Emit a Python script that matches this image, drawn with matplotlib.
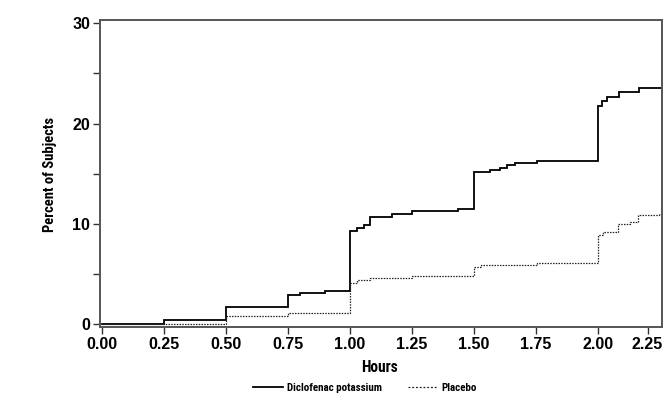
import matplotlib
matplotlib.use("Agg")
import matplotlib.pyplot as plt
from matplotlib.lines import Line2D

# ---- data ----
diclo_x = [0.00, 0.25, 0.50, 0.75, 0.80, 0.90, 1.00, 1.03, 1.055, 1.08, 1.168, 1.25,
           1.435, 1.50, 1.565, 1.605, 1.633, 1.665, 1.753, 2.00, 2.016, 2.035, 2.085,
           2.165, 2.258]
diclo_y = [0.0, 0.4, 1.7, 2.9, 3.1, 3.3, 9.3, 9.6, 9.9, 10.7, 11.0, 11.3,
           11.5, 15.2, 15.4, 15.6, 15.9, 16.1, 16.3, 21.7, 22.2, 22.6, 23.1,
           23.5, 23.5]

placebo_x = [0.00, 0.50, 0.75, 1.00, 1.03, 1.08, 1.168, 1.25, 1.50, 1.528, 1.753,
             2.00, 2.02, 2.082, 2.13, 2.163, 2.245, 2.258]
placebo_y = [0.0, 0.8, 1.1, 4.05, 4.4, 4.55, 4.6, 4.8, 5.7, 5.9, 6.1,
             8.9, 9.15, 10.0, 10.2, 10.85, 11.0, 11.0]

x_tick_pos = [0.0, 0.25, 0.5, 0.75, 1.0, 1.25, 1.5, 1.75, 2.0, 2.2]
x_tick_labels = ["0.00", "0.25", "0.50", "0.75", "1.00", "1.25", "1.50", "1.75", "2.00", "2.25"]
y_ticks = [0, 10, 20, 30]
y_minor = [5, 15, 25]

series_names = ["Diclofenac potassium", "Placebo"]

# ---- fonts ----
narrow = ["Liberation Sans Narrow", "Roboto Condensed", "DejaVu Sans Condensed", "Liberation Sans", "DejaVu Sans"]
tickfont = ["Liberation Sans", "Arial", "DejaVu Sans"]

fig = plt.figure(figsize=(6.71, 3.94), dpi=100)
ax = fig.add_axes([100/671, 1-327/394, (662-100)/671, (327-20)/394])

ax.step(diclo_x, diclo_y, where="post", color="black", lw=1.3, solid_joinstyle="miter")
ax.step(placebo_x, placebo_y, where="post", color="#222222", lw=0.9, linestyle=(0, (1.2, 1.0)))

ax.set_xlim(-0.008, 2.258)
ax.set_ylim(-0.3, 30.33)

ax.set_xticks(x_tick_pos)
ax.set_xticklabels(x_tick_labels, family=tickfont, fontsize=11.5, fontweight="bold")
ax.set_yticks(y_ticks)
ax.set_yticklabels([str(v) for v in y_ticks], family=tickfont, fontsize=11.5, fontweight="bold")
ax.set_yticks(y_minor, minor=True)

ax.tick_params(axis="both", which="major", direction="out", length=5, width=1, color="#333333", pad=2)
ax.tick_params(axis="y", which="minor", direction="out", length=5, width=1, color="#333333")

for s in ax.spines.values():
    s.set_color("#555555")
    s.set_linewidth(1.4)

renderer = fig.canvas.get_renderer()


def fit_size(text, target_px, base=10.0, cap=None):
    t = fig.text(0, 0, text, family=narrow, fontweight="bold", fontsize=base)
    w = t.get_window_extent(renderer).width
    t.remove()
    size = base * target_px / w
    if cap is not None:
        size = min(size, cap)
    return size


xl_size = fit_size("Hours", 37, cap=12)
yl_size = fit_size("Percent of Subjects", 115, cap=12)
lg_size = fit_size(series_names[0], 95, cap=9.5)

fig.text(380/671, 1-368/394, "Hours", family=narrow, fontweight="bold",
         fontsize=xl_size, ha="center", va="center")
fig.text(50/671, 1-175/394, "Percent of Subjects", family=narrow, fontweight="bold",
         fontsize=yl_size, ha="center", va="center", rotation=90)

# legend below the plot
px = lg_size * 100 / 72.0
handles = [Line2D([], [], color="black", lw=1.3),
           Line2D([], [], color="#222222", lw=0.9, linestyle=(0, (1.5, 1.5)))]
fig.legend(handles, series_names, loc="center", bbox_to_anchor=(365/671, 1-388/394),
           ncol=2, frameon=False, handlelength=30/px, handletextpad=4/px,
           columnspacing=26/px, borderpad=0, borderaxespad=0,
           prop={"family": narrow, "weight": "bold", "size": lg_size})

fig.savefig("out.png", dpi=100)
